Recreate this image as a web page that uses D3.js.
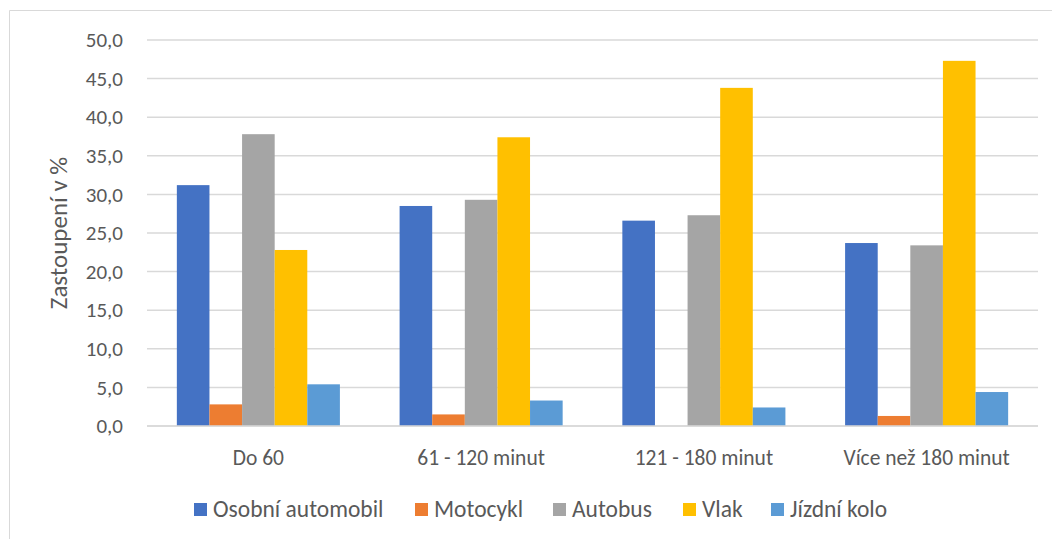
<!DOCTYPE html>
<html lang="cs">
<head>
<meta charset="UTF-8">
<title>Zastoupení v %</title>
<script src="https://d3js.org/d3.v7.min.js"></script>
<style>
  body { margin: 0; background: #fff; }
  text { font-family: Carlito, Lato, "Open Sans", sans-serif; fill: #595959; }
</style>
</head>
<body>
<div id="chart"></div>
<script>
// categories (travel time) and series (mode of transport)
const categories = ["Do 60", "61 - 120 minut", "121 - 180 minut", "Více než 180 minut"];
const seriesNames = ["Osobní automobil", "Motocykl", "Autobus", "Vlak", "Jízdní kolo"];
const colors = ["#4472C4", "#ED7D31", "#A5A5A5", "#FFC000", "#5B9BD5"];

// values per series, one per category
const osobniAutomobil = [31.2, 28.5, 26.6, 23.7];
const motocykl = [2.8, 1.5, 0.0, 1.3];
const autobus = [37.8, 29.3, 27.3, 23.4];
const vlak = [22.8, 37.4, 43.8, 47.3];
const jizdniKolo = [5.4, 3.3, 2.4, 4.4];
const yTicks = [0, 5, 10, 15, 20, 25, 30, 35, 40, 45, 50];

const seriesValues = [osobniAutomobil, motocykl, autobus, vlak, jizdniKolo];

const width = 1052, height = 539;
const margin = { top: 40, right: 14, bottom: 113, left: 147 };

const svg = d3.select("#chart").append("svg")
    .attr("width", width)
    .attr("height", height);

// chart area border (only left and top visible)
svg.append("path")
    .attr("d", "M9.5," + height + "V10.5H" + width)
    .attr("fill", "none")
    .attr("stroke", "#d9d9d9")
    .attr("stroke-width", 1);

const x = d3.scaleBand()
    .domain(categories)
    .range([margin.left, width - margin.right])
    .paddingInner(0.268)
    .paddingOuter(0.134);

const xInner = d3.scaleBand()
    .domain(seriesNames)
    .range([0, x.bandwidth()]);

const y = d3.scaleLinear()
    .domain([0, 50])
    .range([height - margin.bottom, margin.top]);

const fmt = v => d3.format(".1f")(v).replace(".", ",");

// gridlines
svg.append("g")
    .selectAll("line")
    .data(yTicks)
    .join("line")
    .attr("x1", margin.left)
    .attr("x2", width - margin.right)
    .attr("y1", d => y(d))
    .attr("y2", d => y(d))
    .attr("stroke", "#d9d9d9")
    .attr("stroke-width", 1.5);

// y axis labels
svg.append("g")
    .attr("transform", "translate(" + (margin.left - 24) + ",0)")
    .call(d3.axisLeft(y).tickValues(yTicks).tickFormat(fmt).tickSize(0).tickPadding(0))
    .call(g => g.select(".domain").remove())
    .selectAll("text")
    .style("font-size", "21px")
    .style("font-family", null)
    .attr("font-family", null)
    .attr("fill", "#595959");

// bars
const rows = [];
seriesNames.forEach(function (s, i) {
    categories.forEach(function (c, j) {
        rows.push({ series: s, cat: c, value: seriesValues[i][j], color: colors[i] });
    });
});

svg.append("g")
    .selectAll("rect")
    .data(rows.filter(d => d.value > 0))
    .join("rect")
    .attr("x", d => x(d.cat) + xInner(d.series))
    .attr("y", d => y(d.value))
    .attr("width", xInner.bandwidth())
    .attr("height", d => y(0) - y(d.value))
    .attr("fill", d => d.color);

// baseline on top of bars
svg.append("line")
    .attr("x1", margin.left)
    .attr("x2", width - margin.right)
    .attr("y1", y(0))
    .attr("y2", y(0))
    .attr("stroke", "#d9d9d9")
    .attr("stroke-width", 1.5);

// x axis labels
svg.append("g")
    .attr("transform", "translate(0," + (y(0) + 39) + ")")
    .call(d3.axisBottom(x).tickSize(0).tickPadding(0))
    .call(g => g.select(".domain").remove())
    .selectAll("text")
    .attr("dy", 0)
    .style("font-size", "21.5px")
    .attr("fill", "#595959");

// y axis title
svg.append("text")
    .attr("transform", "translate(67," + ((y(0) + y(50)) / 2) + ") rotate(-90)")
    .attr("text-anchor", "middle")
    .style("font-size", "25px")
    .text("Zastoupení v %");

// legend
const legendX = [194, 415, 553, 683, 771];
const legend = svg.append("g")
    .selectAll("g")
    .data(seriesNames)
    .join("g")
    .attr("transform", (d, i) => "translate(" + legendX[i] + ",503)");

legend.append("rect")
    .attr("x", 0)
    .attr("y", 0)
    .attr("width", 13)
    .attr("height", 13)
    .attr("fill", (d, i) => colors[i]);

legend.append("text")
    .attr("x", 19)
    .attr("y", 14)
    .style("font-size", "23.5px")
    .text(d => d);
</script>
</body>
</html>
